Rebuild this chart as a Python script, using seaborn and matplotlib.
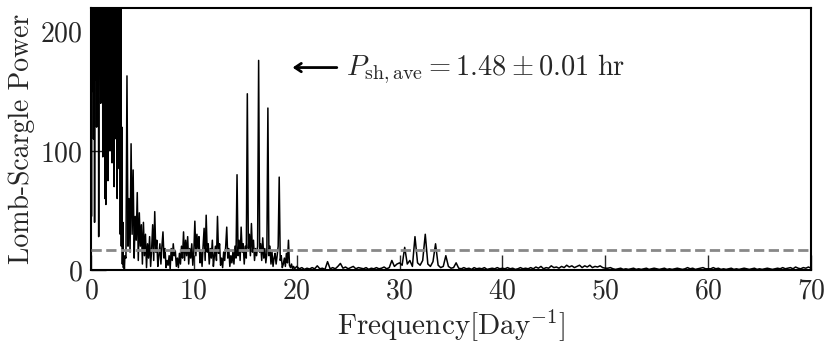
import numpy as np
import pandas as pd
import matplotlib
matplotlib.use("Agg")
import matplotlib.pyplot as plt
import seaborn as sns

# frequency grids (Day^-1), one per stretch of the periodogram
freq_low = np.linspace(0.0, 3.3, 67)
freq_mid = np.linspace(3.4, 20.0, 167)
freq_high = np.linspace(20.25, 70.0, 200)

# Lomb-Scargle power
power_low = [
    300, 45, 320, 150, 380, 110, 350, 40, 290, 160,
    400, 120, 330, 200, 360, 28, 310, 180, 420, 140,
    300, 210, 380, 95, 340, 170, 290, 60, 310, 55,
    260, 130, 330, 75, 280, 190, 350, 100, 300, 150,
    270, 90, 320, 165, 250, 70, 300, 130, 240, 110,
    280, 60, 230, 140, 260, 85, 250, 30, 240, 20,
    120, 5, 40, 2, 8, 1, 12,
]
power_mid = [
    10, 163, 20, 60, 15, 106, 30, 84, 10, 45,
    25, 65, 8, 48, 20, 38, 5, 40, 12, 30,
    2, 22, 10, 28, 3, 18, 38, 8, 49, 15,
    25, 3, 12, 22, 5, 20, 32, 10, 18, 2,
    8, 4, 12, 1, 18, 8, 22, 12, 16, 3,
    10, 2, 14, 5, 20, 10, 32, 8, 25, 12,
    28, 5, 18, 10, 22, 4, 15, 41, 12, 30,
    18, 28, 6, 15, 3, 20, 35, 8, 46, 15,
    22, 5, 18, 10, 25, 3, 12, 20, 8, 45,
    14, 22, 4, 10, 2, 15, 8, 20, 36, 10,
    18, 3, 12, 6, 15, 5, 20, 10, 80, 12,
    25, 8, 36, 15, 22, 5, 20, 10, 148, 18,
    30, 12, 39, 15, 25, 8, 18, 12, 20, 176,
    15, 22, 8, 27, 10, 18, 6, 14, 136, 12,
    20, 5, 15, 3, 10, 14, 5, 12, 20, 78,
    8, 12, 2, 5, 10, 3, 14, 6, 25, 4,
    2, 5, 1, 3, 1, 2, 3,
]
power_high = [
    1, 2, 0.5, 1.5, 0.8, 2, 1, 3.5, 1, 1.5, 0.5, 7, 1, 2, 1, 3, 5.5, 1.5, 2.5, 1,
    2, 3, 1, 2, 1.5, 1, 2, 0.5, 1.5, 1, 2, 1, 1.5, 2.5, 1, 2, 8, 3, 5, 6,
    4, 19, 5, 8, 3, 28, 6, 4, 8, 30, 5, 3, 7, 22, 4, 2, 3, 12, 3, 1.5,
    2, 6, 1.5, 1, 2, 1, 1.5, 0.5, 2, 1, 1.5, 1, 2, 0.5, 1, 1.5, 1, 2, 1, 1.5,
    1, 2, 1, 1.5, 0.5, 1, 2, 1, 1.5, 1, 2, 1, 2.5, 1.5, 3, 1, 2, 1.5, 3.5, 2,
    2.5, 1.5, 3, 2, 4, 2.5, 3.5, 2, 3, 4, 2, 3.5, 2.5, 4, 2, 3, 2.5, 3.5, 2, 1.5,
    1.5, 2, 1, 0.5, 1, 1.5, 0.5, 1, 0.5, 1, 1.5, 0.5, 1, 0.5, 1, 1.5, 0.5, 1, 1.5, 1,
    0.5, 1, 1.5, 0.5, 1, 0.5, 1, 1.5, 1, 0.5, 1, 2, 1, 1.5, 0.5, 1, 1.5, 2, 1, 1,
    1, 2, 1, 1.5, 0.5, 1, 0.5, 1, 1.5, 0.5, 1, 0.5, 1, 1.5, 1, 0.5, 1, 1.5, 0.5, 1,
    0.5, 1, 1.5, 1, 0.5, 1, 1.5, 1, 2, 1, 1.5, 2, 1, 2.5, 1.5, 1, 2, 1.5, 2.5, 1.5,
]

threshold = 17
period_label = r'$P_{\rm sh,ave} = 1.48 \pm 0.01\ {\rm hr}$'

data = pd.DataFrame({
    'freq': np.concatenate([freq_low, freq_mid, freq_high]),
    'power': power_low + power_mid + power_high,
})

sns.set_style('white')
plt.rcParams['font.family'] = 'serif'
plt.rcParams['font.serif'] = ['cmr10']
plt.rcParams['mathtext.fontset'] = 'cm'
plt.rcParams['axes.formatter.use_mathtext'] = True

fig = plt.figure(figsize=(8.3, 3.5), dpi=100, facecolor='white')
ax = fig.add_axes([0.1096, 0.2286, 0.8675, 0.7485])

sns.lineplot(data=data, x='freq', y='power', color='black', linewidth=1.1,
             sort=False, estimator=None, ax=ax)
ax.axhline(threshold, color='#888888', linestyle='--', linewidth=2, zorder=3)

# arrow pointing at the period marker, then the label
ax.annotate('', xy=(19.6, 170), xytext=(23.9, 170),
            arrowprops=dict(arrowstyle='->,head_length=0.45,head_width=0.3',
                            lw=2, color='black', shrinkA=0, shrinkB=0))
ax.text(24.8, 169, period_label, fontsize=20.5, va='center', ha='left')

ax.set_xlim(0, 70)
ax.set_ylim(0, 220)
ax.set_xticks(range(0, 71, 10))
ax.set_yticks([0, 100, 200])
ax.set_xlabel(r'Frequency[Day$^{-1}$]', fontsize=21, labelpad=2)
ax.set_ylabel('Lomb-Scargle Power', fontsize=20)
ax.tick_params(direction='in', length=11, width=1, labelsize=20, pad=6,
               bottom=True, left=True, top=False, right=False)
for spine in ax.spines.values():
    spine.set_linewidth(1.5)
    spine.set_color('black')

fig.savefig('out.png', dpi=100, facecolor='white')
